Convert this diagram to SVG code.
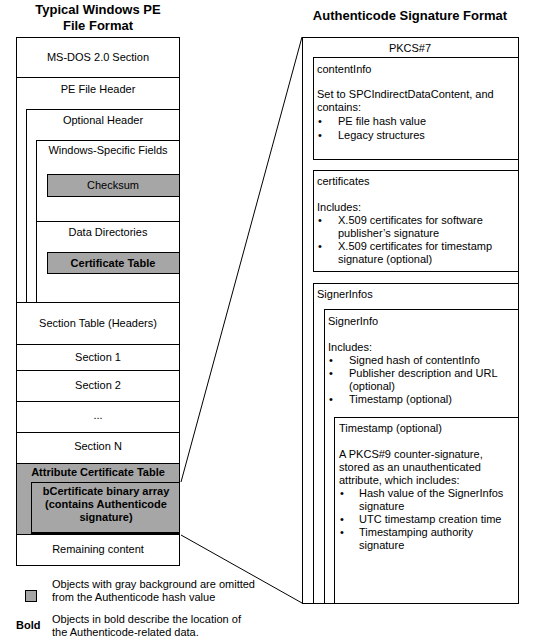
<svg xmlns="http://www.w3.org/2000/svg" width="533" height="639" viewBox="0 0 533 639">
<style>
text{font-family:"Liberation Sans",Arial,sans-serif;font-size:11px;fill:#000}
.t{font-size:13px;font-weight:bold}
.b{font-weight:bold}
.c{text-anchor:middle}
.box{fill:#fff;stroke:#000;stroke-width:1}
.g{fill:#a6a6a6;stroke:#000;stroke-width:1}
.ln{fill:none;stroke:#000;stroke-width:1}
</style>
<rect width="533" height="639" fill="#fff"/>
<text class="t c" x="98" y="14">Typical Windows PE</text>
<text class="t c" x="98" y="30">File Format</text>
<text class="t c" x="410" y="20">Authenticode Signature Format</text>

<g id="pe-file">
<rect class="box" x="16.5" y="37.5" width="163" height="528"/>
</g>
<g id="msdos"><line class="ln" x1="16" y1="77.5" x2="180" y2="77.5"/><text class="c" x="98" y="61">MS-DOS 2.0 Section</text></g>
<g id="pe-header"><text class="c" x="98" y="93">PE File Header</text></g>
<g id="optional-header"><rect class="box" x="26.5" y="109.5" width="153" height="193"/><text class="c" x="103" y="124">Optional Header</text></g>
<g id="windows-fields"><rect class="box" x="36.5" y="140.5" width="143" height="81"/><text class="c" x="108" y="154">Windows-Specific Fields</text></g>
<g id="checksum"><rect class="g" x="47.5" y="174.5" width="132" height="22"/><text class="c" x="113" y="189">Checksum</text></g>
<g id="data-directories"><rect class="box" x="36.5" y="221.5" width="143" height="81"/><text class="c" x="108" y="236">Data Directories</text></g>
<g id="certificate-table"><rect class="g" x="47.5" y="252.5" width="132" height="21"/><text class="c b" x="113" y="267">Certificate Table</text></g>
<g id="section-table"><line class="ln" x1="16" y1="302.5" x2="180" y2="302.5"/><text class="c" x="98" y="327">Section Table (Headers)</text></g>
<g id="section-1"><line class="ln" x1="16" y1="344.5" x2="180" y2="344.5"/><text class="c" x="98" y="361">Section 1</text></g>
<g id="section-2"><line class="ln" x1="16" y1="370.5" x2="180" y2="370.5"/><text class="c" x="98" y="389">Section 2</text></g>
<g id="section-dots"><line class="ln" x1="16" y1="401.5" x2="180" y2="401.5"/><text class="c" x="98" y="419">...</text></g>
<g id="section-n"><line class="ln" x1="16" y1="432.5" x2="180" y2="432.5"/><text class="c" x="98" y="450">Section N</text></g>
<g id="attribute-cert-table"><rect class="g" x="16.5" y="463.5" width="163" height="71"/><text class="c b" x="98" y="476">Attribute Certificate Table</text></g>
<g id="bcertificate"><rect class="g" x="31.5" y="482.5" width="148" height="50"/><line x1="31" y1="533" x2="180" y2="533" stroke="#000" stroke-width="2"/>
<text class="c b" x="106" y="495">bCertificate binary array</text>
<text class="c b" x="106" y="508">(contains Authenticode</text>
<text class="c b" x="106" y="521">signature)</text></g>
<g id="remaining"><text class="c" x="98" y="553">Remaining content</text></g>

<g id="connectors">
<line class="ln" x1="181" y1="482" x2="302" y2="37"/>
<line class="ln" x1="181" y1="535" x2="302" y2="603"/>
</g>

<g id="pkcs7"><rect class="box" x="302.5" y="37.5" width="216" height="566"/><text class="c" x="410" y="52">PKCS#7</text></g>
<g id="contentinfo"><rect class="box" x="313.5" y="57.5" width="205" height="102"/>
<text x="317" y="73">contentInfo</text>
<text x="317" y="98">Set to SPCIndirectDataContent, and</text>
<text x="317" y="111">contains:</text>
<text x="318" y="125">•</text><text x="338" y="125">PE file hash value</text>
<text x="318" y="139">•</text><text x="338" y="139">Legacy structures</text></g>
<g id="certificates"><rect class="box" x="313.5" y="170.5" width="205" height="101"/>
<text x="317" y="185">certificates</text>
<text x="317" y="211">Includes:</text>
<text x="318" y="224">•</text><text x="338" y="224">X.509 certificates for software</text>
<text x="338" y="237">publisher’s signature</text>
<text x="318" y="250">•</text><text x="338" y="250">X.509 certificates for timestamp</text>
<text x="338" y="263">signature (optional)</text></g>
<g id="signerinfos"><rect class="box" x="313.5" y="283.5" width="205" height="320"/>
<text x="317" y="298">SignerInfos</text></g>
<g id="signerinfo"><rect class="box" x="324.5" y="309.5" width="194" height="294"/>
<text x="328" y="325">SignerInfo</text>
<text x="328" y="351">Includes:</text>
<text x="329" y="364">•</text><text x="349" y="364">Signed hash of contentInfo</text>
<text x="329" y="377">•</text><text x="349" y="377">Publisher description and URL</text>
<text x="349" y="390">(optional)</text>
<text x="329" y="403">•</text><text x="349" y="403">Timestamp (optional)</text></g>
<g id="timestamp"><rect class="box" x="334.5" y="417.5" width="184" height="186"/>
<text x="339" y="432">Timestamp (optional)</text>
<text x="339" y="458">A PKCS#9 counter-signature,</text>
<text x="339" y="471">stored as an unauthenticated</text>
<text x="339" y="484">attribute, which includes:</text>
<text x="340" y="497">•</text><text x="359" y="497">Hash value of the SignerInfos</text>
<text x="359" y="510">signature</text>
<text x="340" y="523">•</text><text x="359" y="523">UTC timestamp creation time</text>
<text x="340" y="536">•</text><text x="359" y="536">Timestamping authority</text>
<text x="359" y="549">signature</text></g>

<g id="legend">
<rect class="g" x="25.5" y="590.5" width="11" height="11"/>
<text x="52" y="588">Objects with gray background are omitted</text>
<text x="52" y="601">from the Authenticode hash value</text>
<text class="b" x="16" y="629">Bold</text>
<text x="52" y="623">Objects in bold describe the location of</text>
<text x="52" y="636">the Authenticode-related data.</text>
</g>
</svg>
